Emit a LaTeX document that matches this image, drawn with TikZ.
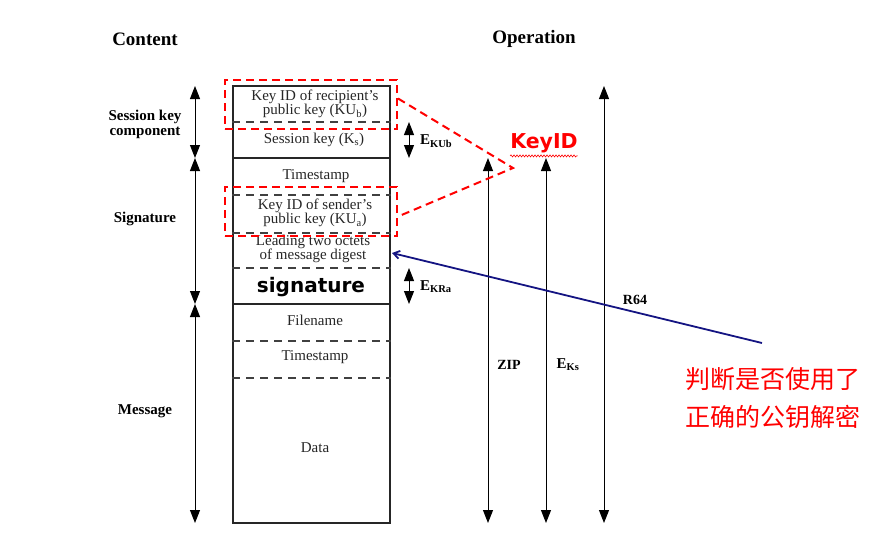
\documentclass[tikz,border=0pt]{standalone}
\usepackage{fontspec}
\setmainfont{Liberation Serif}
\newfontfamily\cjkfont{Noto Sans CJK SC}
\newfontfamily\sigfont{DejaVu Sans}
\usetikzlibrary{arrows.meta,decorations.pathmorphing}
\definecolor{navyline}{RGB}{20,20,130}
\begin{document}
\begin{tikzpicture}[x=1pt,y=-1pt,
  fieldtxt/.style={font=\fontsize{15}{14.5}\selectfont, text=black!85, align=center, inner sep=0pt},
  hdr/.style={font=\fontsize{19}{22}\selectfont\bfseries},
  lbl/.style={font=\fontsize{15}{15}\selectfont\bfseries, align=center},
  oplbl/.style={font=\fontsize{14}{16}\selectfont\bfseries},
  dblarrow/.style={{Triangle[width=10pt,length=13pt]}-{Triangle[width=10pt,length=13pt]}, line width=1pt},
  sepline/.style={line width=1.2pt, black!75, dash pattern=on 8pt off 6pt},
  solidsep/.style={line width=2pt, black!85},
  redbox/.style={draw=red, line width=2pt, dash pattern=on 8pt off 5pt, inner sep=0pt},
  reddash/.style={red, line width=2pt, dash pattern=on 8pt off 5pt}]
\useasboundingbox (0,0) rectangle (889,557);

% headers
\node[hdr] (hcontent) at (145,39) {Content};
\node[hdr] (hop) at (534,39) {Operation};

% main box
\node[draw, line width=2pt, black!85, minimum width=157pt, minimum height=437pt, inner sep=0pt] (box) at (311.5,304.5) {};

% separators
\draw[sepline] (box.west |- 0,122) -- (box.east |- 0,122);
\draw[solidsep] (box.west |- 0,158) -- (box.east |- 0,158);
\draw[sepline] (box.west |- 0,195) -- (box.east |- 0,195);
\draw[sepline] (box.west |- 0,233) -- (box.east |- 0,233);
\draw[sepline] (box.west |- 0,268) -- (box.east |- 0,268);
\draw[solidsep] (box.west |- 0,304) -- (box.east |- 0,304);
\draw[sepline] (box.west |- 0,341) -- (box.east |- 0,341);
\draw[sepline] (box.west |- 0,378) -- (box.east |- 0,378);

% field texts
\node[fieldtxt] (f1) at (315,104) {Key ID of recipient's\\public key (KU\textsubscript{b})};
\node[fieldtxt] (f2) at (314,140) {Session key (K\textsubscript{s})};
\node[fieldtxt] (f3) at (316,176) {Timestamp};
\node[fieldtxt] (f4) at (315,213) {Key ID of sender's\\public key (KU\textsubscript{a})};
\node[fieldtxt] (f5) at (313,249) {Leading two octets\\of message digest};
\node[font=\sigfont\bfseries\fontsize{20}{22}\selectfont, inner sep=0pt] (f6) at (311,287) {signature};
\node[fieldtxt] (f7) at (315,320) {Filename};
\node[fieldtxt] (f8) at (315,357) {Timestamp};
\node[fieldtxt] (f9) at (315,448) {Data};

% left arrows
\coordinate (la0) at (195,86);
\coordinate (la1) at (195,158);
\coordinate (la2) at (195,304);
\coordinate (la3) at (195,523);
\draw[dblarrow] (la0) -- (la1);
\draw[dblarrow] (la1) -- (la2);
\draw[dblarrow] (la2) -- (la3);
\node[lbl] (lsk) at (145,124) {Session key\\component};
\node[lbl] (lsig) at (145,219) {Signature};
\node[lbl] (lmsg) at (145,411) {Message};

% E_KUb and E_KRa
\coordinate (eu0) at (409,122);
\coordinate (eu1) at (409,158);
\draw[dblarrow] (eu0) -- (eu1);
\node[font=\fontsize{15}{16}\selectfont\bfseries, anchor=west, inner sep=0pt] (ekub) at (420,141) {E\textsubscript{KUb}};
\coordinate (er0) at (409,268);
\coordinate (er1) at (409,304);
\draw[dblarrow] (er0) -- (er1);
\node[font=\fontsize{15}{16}\selectfont\bfseries, anchor=west, inner sep=0pt] (ekra) at (420,287) {E\textsubscript{KRa}};

% operation arrows
\coordinate (zt) at (488,158);
\coordinate (zb) at (488,523);
\draw[dblarrow] (zt) -- (zb);
\coordinate (kt) at (546,158);
\coordinate (kb) at (546,523);
\draw[dblarrow] (kt) -- (kb);
\coordinate (rt) at (604,86);
\coordinate (rb) at (604,523);
\draw[dblarrow] (rt) -- (rb);
\node[oplbl] (zip) at (509,365) {ZIP};
\node[font=\fontsize{15}{16}\selectfont\bfseries] (eks) at (568,365) {E\textsubscript{Ks}};
\node[oplbl] (r64) at (635,300) {R64};

% red dashed boxes and KeyID pointer
\node[redbox, minimum width=172pt, minimum height=49pt] (rb1) at (311,104.5) {};
\node[redbox, minimum width=172pt, minimum height=49pt] (rb2) at (311,211.5) {};
\coordinate (kid) at (513,168);
\draw[reddash] ([yshift=6pt]rb1.east) -- (kid) -- ([yshift=-5pt]rb2.east);
\node[font=\sigfont\bfseries\fontsize{20.5}{24}\selectfont, text=red, inner sep=0pt] (keyid) at (544,143) {KeyID};
\draw[red, line width=0.6pt, decorate, decoration={snake, amplitude=1pt, segment length=3pt}] ([yshift=-3pt]keyid.south west) -- ([yshift=-3pt]keyid.south east);

% blue pointer
\coordinate (bl) at (762,343);
\draw[navyline, line width=1.8pt, -{Straight Barb[length=6pt,width=8pt]}] (bl) -- (392,253);

% Chinese note
\node[font=\cjkfont\fontsize{25}{38}\selectfont, text=red, align=left, anchor=north west, inner sep=0pt] (note) at (685,367) {判断是否使用了\\正确的公钥解密};
\end{tikzpicture}
\end{document}
